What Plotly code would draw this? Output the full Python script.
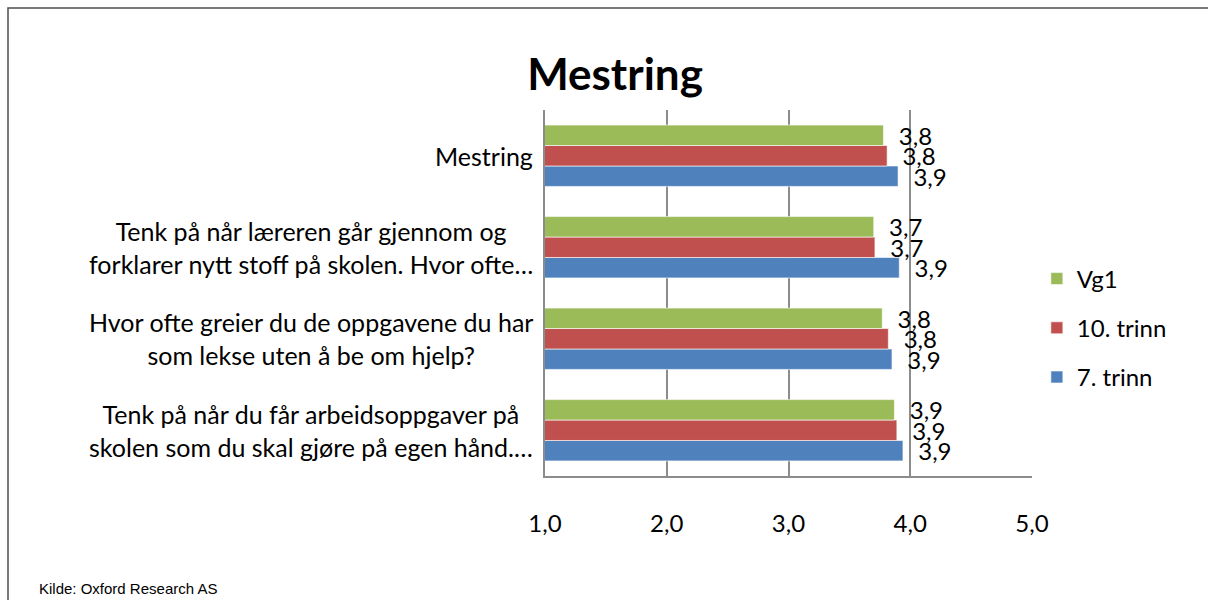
import plotly.graph_objects as go

categories = [
    "Mestring",
    "Tenk på når læreren går gjennom og<br>forklarer nytt stoff på skolen. Hvor ofte…",
    "Hvor ofte greier du de oppgavene du har<br>som lekse uten å be om hjelp?",
    "Tenk på når du får arbeidsoppgaver på<br>skolen som du skal gjøre på egen hånd.…",
]
series_names = ["7. trinn", "10. trinn", "Vg1"]
vals_7 = [3.90, 3.91, 3.85, 3.94]
vals_10 = [3.81, 3.71, 3.82, 3.89]
vals_vg1 = [3.78, 3.70, 3.77, 3.87]
series_vals = [vals_7, vals_10, vals_vg1]
legend_ranks = [3, 2, 1]
colors = ["#4F81BD", "#C0504D", "#9BBB59"]
x_ticks = [1, 2, 3, 4, 5]

FONT = "Lato, Carlito, Calibri, sans-serif"
FS = 24

fig = go.Figure()
for name, vals, col, rank in zip(series_names, series_vals, colors, legend_ranks):
    fig.add_trace(go.Bar(
        y=categories, x=vals, name=name, orientation="h",
        marker=dict(color=col, line=dict(color="rgba(255,255,255,0.6)", width=1)),
        texttemplate="\u00a0\u00a0%{x:.1f}", textposition="outside",
        constraintext="none",
        textfont=dict(family=FONT, size=FS, color="black"),
        cliponaxis=False, legendgroup=name, legendrank=rank,
    ))

fig.update_layout(
    width=1208, height=600,
    paper_bgcolor="white", plot_bgcolor="white",
    separators=", ",
    barmode="group", bargap=0.33, bargroupgap=0,
    margin=dict(l=545, r=176, t=110, b=124),
    font=dict(family=FONT, size=FS, color="black"),
    title=dict(text="<b>Mestring</b>", x=615/1208, xanchor="center", y=1-75/600, yanchor="middle",
               font=dict(family=FONT, size=44, color="black")),
    xaxis=dict(range=[1, 5], tickvals=x_ticks, tickformat=".1f", showgrid=True,
               gridcolor="#8C8C8C", gridwidth=1.5, showline=True, linecolor="#8C8C8C", linewidth=1.5,
               zeroline=False, ticks="", ticklabelstandoff=25,
               tickfont=dict(family=FONT, size=FS, color="black")),
    yaxis=dict(categoryorder="array", categoryarray=categories[::-1], showticklabels=False,
               showline=True, linecolor="#8C8C8C", linewidth=1.5, ticks="", showgrid=False),
    legend=dict(x=1.010, xanchor="left", y=(476-328)/366, yanchor="middle",
                tracegroupgap=15, font=dict(family=FONT, size=FS, color="black"),
                itemwidth=30, bgcolor="rgba(0,0,0,0)"),
    showlegend=True,
)

for cat in categories:
    fig.add_annotation(x=0, xref="paper", xanchor="right", xshift=-10, y=cat, yref="y",
                       text=cat, showarrow=False, align="center",
                       font=dict(family=FONT, size=25, color="black"))

fig.add_annotation(x=(37-545)/487, xref="paper", xanchor="left", y=(476-588)/366, yref="paper",
                   yanchor="middle", text="Kilde: Oxford Research AS", showarrow=False,
                   font=dict(family="Liberation Sans Narrow, Arial Narrow, Liberation Sans", size=15, color="black"))

fig.add_shape(type="rect", xref="paper", yref="paper",
              x0=(8-545)/487, x1=(1220-545)/487, y0=(476-620)/366, y1=(476-8)/366,
              line=dict(color="#4D4D4D", width=1.5), fillcolor="rgba(0,0,0,0)", layer="below")

fig.write_html("out.html", config={"displayModeBar": False},
               post_script="document.body.style.margin='0px';document.body.style.overflow='hidden';")
